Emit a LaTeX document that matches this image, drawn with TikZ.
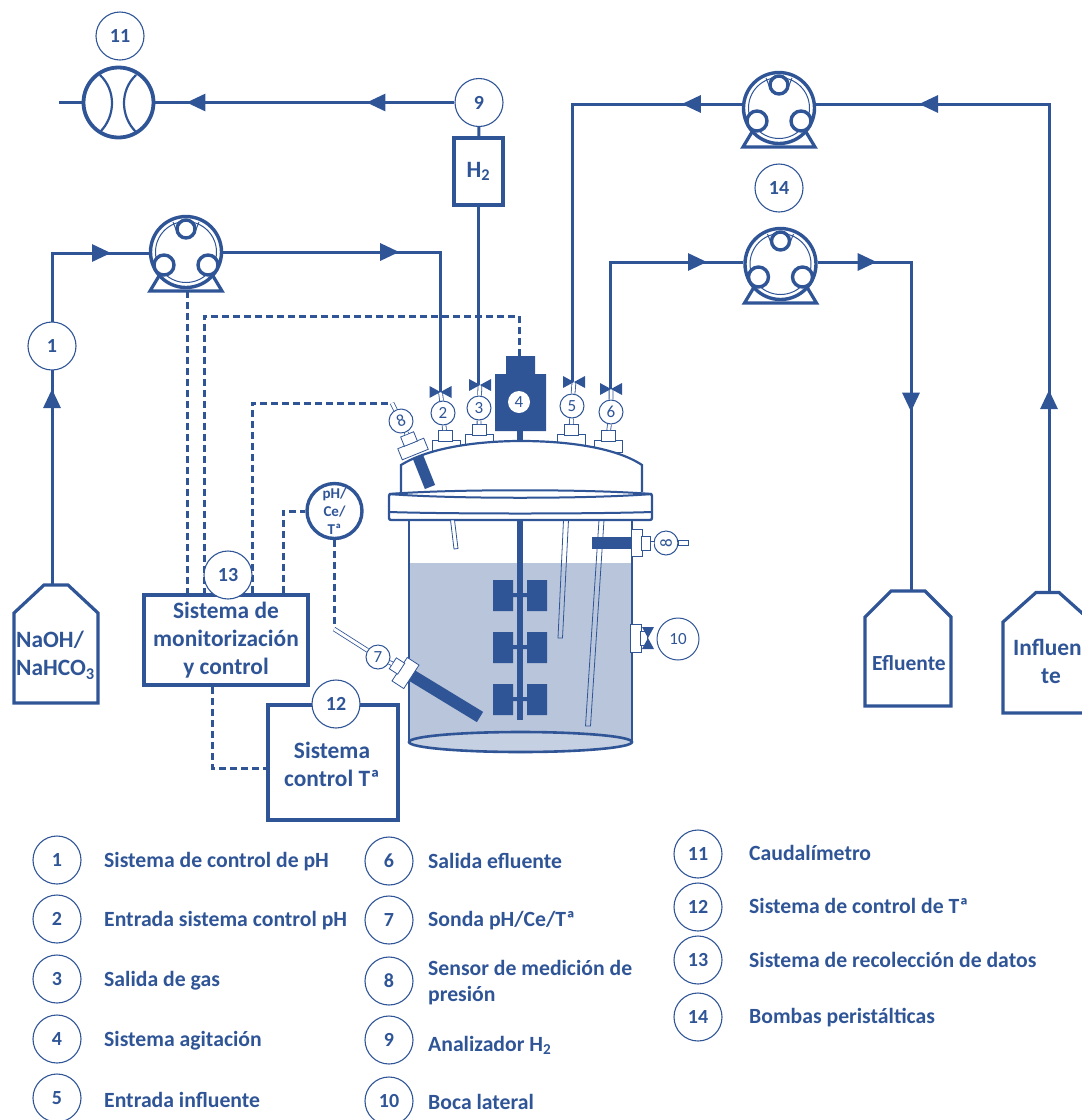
\documentclass[tikz,border=0pt]{standalone}
\usepackage{fontspec}
\setmainfont{Carlito}
\usepackage{xcolor}
\usetikzlibrary{arrows.meta,decorations.markings}
\definecolor{fblue}{RGB}{47,85,151}
\definecolor{liquid}{RGB}{185,197,218}
\definecolor{liquidb}{RGB}{197,208,226}

\begin{document}
\begin{tikzpicture}[x=1pt,y=-1pt,
 num/.style={circle,draw=fblue,line width=1.1pt,fill=white,minimum size=48pt,inner sep=0pt,text=fblue,font=\fontsize{20}{20}\selectfont\bfseries},
 mini/.style={circle,draw=fblue,line width=1pt,fill=white,minimum size=24pt,inner sep=0pt,text=fblue,font=\fontsize{17}{17}\selectfont},
 legend/.style={anchor=west,inner sep=0pt,align=left,text=fblue,font=\fontsize{21.7}{26}\selectfont\bfseries},
 lab/.style={align=center,text=fblue,font=\fontsize{23.4}{28}\selectfont\bfseries},
 pipe/.style={draw=fblue,line width=3pt},
 sig/.style={draw=fblue,line width=3pt,dash pattern=on 7pt off 4pt},
 stem/.style={draw=fblue,line width=.8pt,double=white,double distance=3pt},
 panel/.style={draw=fblue,line width=4pt,fill=white,inner sep=0pt},
 bottle/.style={draw=fblue,line width=3.2pt,fill=white,line join=miter},
 fit/.style={draw=fblue,line width=.8pt,fill=white,inner sep=0pt},
 tube/.style={draw=fblue,line width=.8pt},
 flow/.style={postaction={decorate,decoration={markings,mark=at position #1 with {\arrow[fblue]{Triangle[length=19pt,width=17pt]}}}}},
 pics/valve/.style={code={\fill[fblue] (-11,-6)--(11,6)--(11,-6)--(-11,6)--cycle;}},
 pics/pump/.style={code={
  \draw[fblue,line width=3.2pt,fill=white,line join=miter] (-36,39)--(36,39)--(24,19)--(-24,19)--cycle;
  \node[circle,draw=fblue,line width=3.4pt,fill=white,minimum size=71pt,inner sep=0pt] (-c) at (0,0) {};
  \draw[fblue,line width=1pt] (0,0) circle (30.5);
  \draw[fblue,line width=1pt] (-13,-30)--(-9,-20) (13,-30)--(9,-20);
  \draw[fblue,line width=3.4pt,fill=white] (0,-23) circle (9) (-22,13) circle (10) (22,13) circle (10);
 }}]
\clip (0,0) rectangle (1082,1120);
% flowmeter and gas line
\node[circle,draw=fblue,line width=3.8pt,minimum size=70pt,inner sep=0pt] (fm) at (118.5,102.5) {};
\draw[fblue,line width=2.2pt] (100,75) .. controls (116,90) and (116,116) .. (100,132) (136,75) .. controls (120,90) and (120,116) .. (136,132);
\coordinate (fmin) at (59,102.5);
\draw[pipe] (fmin)--(fm.west);
\node[num] (c11) at (120,36) {11};
\node[num] (c9) at (479,102.5) {9};
\node[panel,line width=3.4pt,minimum width=49pt,minimum height=67pt,lab] (h2) at (478.5,171.5) {H\textsubscript{2}};
\draw[pipe,flow=88pt,flow=268pt] (c9.west)--(fm.east);
\draw[pipe] (c9)--(h2);
% pumps
\pic (pa) at (186,252) {pump};
\pic (pb) at (779,108) {pump};
\pic (pc) at (780.5,264) {pump};
\node[num] (c14) at (779,188) {14};
% valves
\coordinate (v2) at (440.5,392);
\coordinate (v3) at (480,385);
\coordinate (v5) at (574,382);
\coordinate (v6) at (611,389);
% bottles
\coordinate (naoh) at (52,584);
\coordinate (eflu) at (911,590);
\coordinate (inf) at (1049,592);
\draw[bottle] (14,703)--(14,613)--(44,585)--(68,585)--(98,613)--(98,703)--cycle;
\draw[bottle] (865,706)--(865,617)--(891,591)--(925,591)--(951,617)--(951,706)--cycle;
\draw[bottle] (1003,713)--(1003,622)--(1036,592.5)--(1059,592.5)--(1092,622)--(1092,713)--cycle;
\node[lab,align=left,anchor=west,inner sep=0pt] (naohtx) at (16,655) {NaOH/\\NaHCO\textsubscript{3}};
\node[lab,font=\fontsize{21.5}{26}\selectfont\bfseries] (eflutx) at (909,663) {Efluente};
\node[lab] (inftx) at (1051,661) {Influen-\\te};
% liquid lines
\coordinate (ca) at (52,253);
\coordinate (cb) at (572,104);
\coordinate (cc) at (610,262);
\coordinate (cd) at (1049,104);
\coordinate (ce) at (440.5,252);
\coordinate (cf) at (911,262);
\draw[pipe,flow=195pt,flow=390pt] (naoh)--(ca)--(pa-c.west|-ca);
\draw[pipe,flow=176pt] (pa-c.east|-ce)--(ce)--(v2);
\draw[pipe,flow=60pt] (pb-c.west|-cb)--(cb)--(cb|-v5);
\draw[pipe,flow=202pt,flow=618pt] (inf)--(cd)--(pb-c.east|-cd);
\draw[pipe,flow=224pt] (cc|-v6)--(cc)--(pc-c.west|-cc);
\draw[pipe,flow=59pt,flow=243pt] (pc-c.east|-cf)--(cf)--(eflu);
\draw[pipe] (h2.south)--(h2.south|-v3);
\node[num] (c1) at (52,346) {1};
% signal lines
\node[panel,minimum width=164pt,minimum height=90pt,lab] (mon) at (226,640) {Sistema de\\monitorización\\y control};
\node[panel,minimum width=130pt,minimum height=115pt] (tc) at (333,762.5) {};
\node[lab] (tctx) at (332,764) {Sistema\\control Tª};
\node[circle,draw=fblue,line width=3.4pt,fill=white,minimum size=55pt,inner sep=0pt,text=fblue,align=center,font=\fontsize{15}{18}\selectfont\bfseries] (ph) at (334.5,511) {pH/\\Ce/\\Tª};
\coordinate (s4) at (519,356);
\coordinate (s4a) at (519,316);
\coordinate (s4b) at (204,316);
\coordinate (s8) at (390,403);
\coordinate (s8a) at (252,403);
\coordinate (s7) at (334.5,628);
\coordinate (s13) at (283,511);
\coordinate (stc) at (212,768);
\coordinate (spa) at (187,291);
\draw[sig] (spa)--(spa|-mon.north);
\draw[sig] (s4)--(s4a)--(s4b)--(s4b|-mon.north);
\draw[sig] (s8a|-mon.north)--(s8a)--(s8);
\draw[sig] (s13|-mon.north)--(s13)--(ph.west|-s13);
\draw[sig] (ph)--(s7);
\draw[sig] (mon.south-|stc)--(stc)--(tc.west|-stc);
\node[num] (c13) at (228,575) {13};
\node[num] (c12) at (336,704) {12};
% fittings on the lid
\node[fit,minimum width=28pt,minimum height=12pt] (b2) at (446,446) {};
\node[fit,minimum width=14pt,minimum height=11pt] (k2) at (445,436) {};
\node[fit,minimum width=28pt,minimum height=12pt] (b3) at (479,440) {};
\node[fit,minimum width=14pt,minimum height=11pt] (k3) at (479,430) {};
\node[fit,minimum width=28pt,minimum height=12pt] (b5) at (571,440) {};
\node[fit,minimum width=14pt,minimum height=11pt] (k5) at (571,430) {};
\node[fit,minimum width=28pt,minimum height=12pt] (b6) at (608,446) {};
\node[fit,minimum width=14pt,minimum height=11pt] (k6) at (608,436) {};
% vessel
\fill[liquid] (409,563) rectangle (632,742);
\fill[liquid] (520.5,742) ellipse (111.5 and 11);
\draw[draw=fblue,line width=2.8pt] (409,520)--(409,742) (632,520)--(632,742);
\draw[draw=fblue,line width=2.6pt,fill=liquidb] (520.5,742) ellipse (111.5 and 10);
\draw[draw=fblue,line width=2.2pt,fill=white] (401,492)--(401,465) .. controls (430,447) and (480,441) .. (521,441) .. controls (565,441) and (615,447) .. (642,465)--(642,492);
\draw[draw=fblue,line width=2.4pt,fill=white,rounded corners=2pt] (389,494) rectangle (652,520);
\draw[draw=fblue,line width=2pt] (389,512) .. controls (450,514) and (590,514) .. (652,512);
\draw[draw=fblue,line width=2pt,fill=white] (389,494) .. controls (450,489) and (590,489) .. (652,494) .. controls (590,499) and (450,499) .. (389,494);
% tubes
\draw[tube,fill=white] (450.5,520)--(454,549)--(458,548.5)--(454.5,520)--cycle;
\draw[tube] (563.5,520)--(558,638)--(562.5,638)--(568.5,520)--cycle;
\draw[tube] (599,520)--(585.5,726)--(590.5,726)--(604,520)--cycle;
% stirrer
\fill[fblue] (517,520) rectangle (523,720);
\fill[fblue] (493,580) rectangle (513,611) (527,580) rectangle (547,611);
\fill[fblue] (493,632) rectangle (513,663) (527,632) rectangle (547,663);
\fill[fblue] (493,684) rectangle (513,715) (527,684) rectangle (547,715);
\fill[fblue] (513,593) rectangle (527,597) (513,645) rectangle (527,649) (513,697) rectangle (527,701);
% motor
\fill[fblue] (517,431) rectangle (523,441);
\fill[fblue] (506,356) rectangle (535,374) (495,374) rectangle (546,431);
% valve stems and labels
\node[mini] (c2) at (443,413) {2};
\node[mini] (c3) at (479,408) {3};
\node[circle,fill=white,minimum size=22pt,inner sep=0pt,text=fblue,font=\fontsize{17}{17}\selectfont] (c4) at (519,402) {4};
\node[mini] (c5) at (572,406) {5};
\node[mini] (c6) at (611,412) {6};
\draw[stem] (v2)--(c2) (c2)--(k2) (v3)--(c3) (c3)--(k3) (v5)--(c5) (c5)--(k5) (v6)--(c6) (c6)--(k6);
\pic at (v2) {valve};
\pic at (v3) {valve};
\pic at (v5) {valve};
\pic at (v6) {valve};
% pressure sensor
\draw[fblue,line width=11pt] (418,457)--(430,487);
\node[fit,rotate=22,minimum width=28pt,minimum height=12pt] (b8) at (413,449) {};
\node[fit,rotate=22,minimum width=14pt,minimum height=10pt] (k8) at (409,439) {};
\node[mini,rotate=20] (c8) at (401,421) {8};
\coordinate (s8b) at (392,403);
\draw[stem] (s8b)--(c8) (c8)--(k8);
% probe in the liquid
\draw[fblue,line width=12pt] (411,675)--(480,717);
\node[fit,rotate=57,minimum width=28pt,minimum height=14pt] (b7) at (405.5,673) {};
\node[fit,rotate=57,minimum width=13pt,minimum height=10pt] (k7) at (397,666) {};
\node[mini] (c7) at (378,657) {7};
\coordinate (s7b) at (334,629);
\draw[stem] (s7b)--(c7) (c7)--(k7);
% top side port
\fill[fblue] (592,537) rectangle (631,549);
\node[fit,minimum width=11pt,minimum height=27pt] (b0) at (636.5,542.5) {};
\node[fit,minimum width=9pt,minimum height=14pt] (k0) at (646,543) {};
\node[fit,minimum width=10pt,minimum height=5pt] (s0) at (683,543) {};
\node[mini,rotate=90] (c0) at (666,543) {8};
\draw[stem] (k0)--(c0);
% lower side port
\node[fit,minimum width=11pt,minimum height=28pt] (b10) at (635.5,638) {};
\node[fit,minimum width=7pt,minimum height=14pt] (k10) at (644,638) {};
\node[circle,draw=fblue,line width=1pt,fill=white,minimum size=42pt,inner sep=0pt,text=fblue,font=\fontsize{17}{17}\selectfont] (c10) at (678,639) {10};
\pic[rotate=90] at (648,638) {valve};
% key
\node[num] (n1) at (57,860) {1};
\node[legend] (t1) at (104,862) {Sistema de control de pH};
\node[num] (n2) at (57,919) {2};
\node[legend] (t2) at (104,921) {Entrada sistema control pH};
\node[num] (n3) at (57,979) {3};
\node[legend] (t3) at (104,981) {Salida de gas};
\node[num] (n4) at (57,1039) {4};
\node[legend] (t4) at (104,1041) {Sistema agitación};
\node[num] (n5) at (57,1098) {5};
\node[legend] (t5) at (104,1100) {Entrada influente};
\node[num] (n6) at (389,861) {6};
\node[legend] (t6) at (428,861) {Salida efluente};
\node[num] (n7) at (389,920) {7};
\node[legend] (t7) at (428,921) {Sonda pH/Ce/Tª};
\node[num] (n8) at (389,981) {8};
\node[legend] (t8) at (428,983) {Sensor de medición de\\presión};
\node[num] (n9) at (389,1040) {9};
\node[legend] (t9) at (428,1045) {Analizador H\textsubscript{2}};
\node[num] (n10) at (389,1101) {10};
\node[legend] (t10) at (428,1102) {Boca lateral};
\node[num] (n11) at (698,854) {11};
\node[legend] (t11) at (749,853) {Caudalímetro};
\node[num] (n12) at (698,907) {12};
\node[legend] (t12) at (749,906) {Sistema de control de Tª};
\node[num] (n13) at (698,960) {13};
\node[legend] (t13) at (749,960) {Sistema de recolección de datos};
\node[num] (n14) at (698,1017) {14};
\node[legend] (t14) at (749,1018) {Bombas peristálticas};
\end{tikzpicture}
\end{document}
